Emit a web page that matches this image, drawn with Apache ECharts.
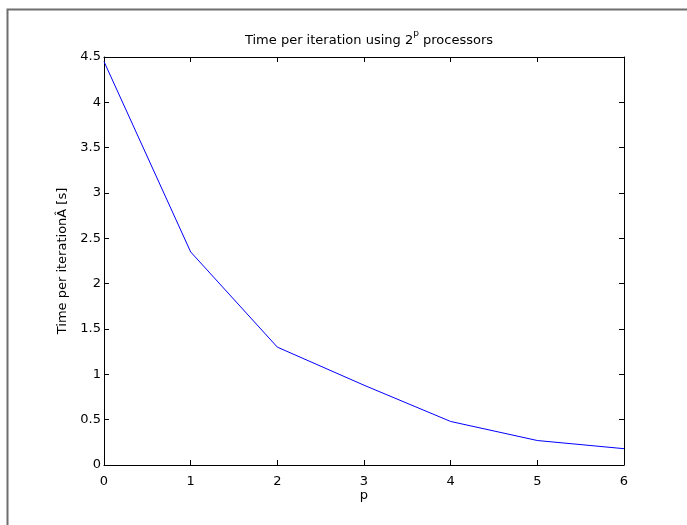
<!DOCTYPE html>
<html>
<head>
<meta charset="utf-8">
<script src="https://cdn.jsdelivr.net/npm/echarts@6/dist/echarts.min.js"></script>
<style>html,body{margin:0;padding:0;background:#fff;}#c{width:687px;height:525px;}</style>
</head>
<body>
<div id="c"></div>
<script>
const pValues = [0, 1, 2, 3, 4, 5, 6];
const timePerIteration = [4.45, 2.35, 1.30, 0.88, 0.48, 0.27, 0.18];
const xTicks = [0, 1, 2, 3, 4, 5, 6];
const yTicks = [0, 0.5, 1, 1.5, 2, 2.5, 3, 3.5, 4, 4.5];

const FONT = '"DejaVu Sans", "Liberation Sans", Arial, sans-serif';
const FS = 13;
const chart = echarts.init(document.getElementById('c'), null, {renderer: 'canvas'});
const axisCommon = {
  axisLine: {show: true, onZero: false, lineStyle: {color: '#000', width: 1}},
  axisTick: {show: true, inside: true, length: 5, lineStyle: {color: '#000'}},
  splitLine: {show: false}
};
chart.setOption({
  backgroundColor: '#fff',
  animation: false,
  title: {
    text: '{n|Time per iteration using 2}{sup|p}{n| processors}',
    left: 364, top: 24, textAlign: 'center',
    textStyle: {
      fontFamily: FONT, fontSize: FS, fontWeight: 'normal', color: '#000',
      rich: {
        n: {fontFamily: FONT, fontSize: FS, color: '#000', lineHeight: 18, verticalAlign: 'bottom'},
        sup: {fontSize: 9, fontFamily: FONT, color: '#000', lineHeight: 18, verticalAlign: 'top'}
      }
    }
  },
  grid: {left: 104, top: 57, width: 520, height: 408, containLabel: false},
  xAxis: [
    Object.assign({}, axisCommon, {
      type: 'value', min: 0, max: 6, interval: 1, position: 'bottom',
      name: 'p', nameLocation: 'middle', nameGap: 24, nameMoveOverlap: false,
      nameTextStyle: {fontFamily: FONT, fontSize: FS, color: '#000'},
      axisLabel: {margin: 10, fontFamily: FONT, fontSize: FS, color: '#000',
        formatter: v => xTicks.includes(v) ? String(v) : ''}
    }),
    Object.assign({}, axisCommon, {
      type: 'value', min: 0, max: 6, interval: 1, position: 'top',
      axisLabel: {show: false}
    })
  ],
  yAxis: [
    Object.assign({}, axisCommon, {
      type: 'value', min: 0, max: 4.5, interval: 0.5, position: 'left',
      name: 'Time per iteration\u00C2 [s]', nameLocation: 'middle', nameGap: 32,
      nameTextStyle: {fontFamily: FONT, fontSize: FS, color: '#000'},
      axisLabel: {margin: 3, fontFamily: FONT, fontSize: FS, color: '#000',
        formatter: v => yTicks.includes(v) ? String(v) : ''}
    }),
    Object.assign({}, axisCommon, {
      type: 'value', min: 0, max: 4.5, interval: 0.5, position: 'right',
      axisLabel: {show: false}
    })
  ],
  series: [{
    type: 'line',
    xAxisIndex: 0, yAxisIndex: 0,
    data: pValues.map((p, i) => [p, timePerIteration[i]]),
    showSymbol: false, symbol: 'none',
    lineStyle: {color: '#0000ff', width: 1},
    itemStyle: {color: '#0000ff'}
  }],
  graphic: [{
    type: 'rect', silent: true, z: -1,
    shape: {x: 7.5, y: 9.5, width: 700, height: 540},
    style: {fill: 'none', stroke: '#6e6e6e', lineWidth: 2}
  }]
});
</script>
</body>
</html>
